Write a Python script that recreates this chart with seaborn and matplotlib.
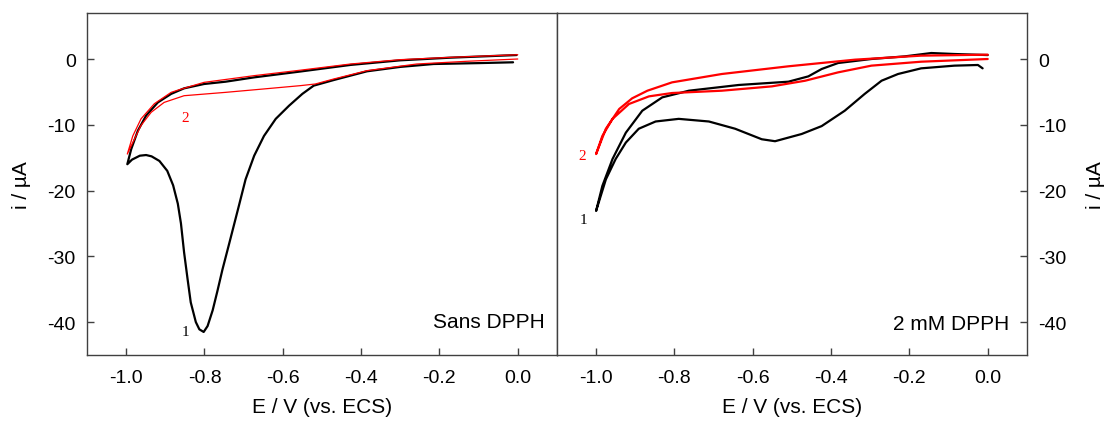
import matplotlib
matplotlib.use("Agg")
import matplotlib.pyplot as plt
import seaborn as sns

# left panel: without DPPH
# curve 1 (black): cathodic sweep 0 -> -1 V, then back to 0
e_sans_1 = [-0.012, -0.097, -0.215, -0.300, -0.385, -0.470, -0.521, -0.550, -0.584, -0.618,
            -0.648, -0.673, -0.695, -0.712, -0.737, -0.754, -0.767, -0.779, -0.792, -0.802,
            -0.813, -0.822, -0.835, -0.843, -0.852, -0.860, -0.868, -0.880, -0.895, -0.915,
            -0.935, -0.949, -0.965, -0.985, -0.997,
            -0.987, -0.970, -0.949, -0.919, -0.885, -0.852, -0.801, -0.746, -0.673, -0.555,
            -0.427, -0.300, -0.173, -0.003]
i_sans_1 = [-0.5, -0.62, -0.76, -1.2, -1.87, -3.2, -4.05, -5.3, -7.1, -9.1,
            -11.7, -14.7, -18.3, -22.3, -28.1, -32.0, -35.3, -38.2, -40.6, -41.5,
            -41.1, -40.0, -37.0, -33.5, -29.4, -25.0, -22.0, -19.2, -17.0, -15.5,
            -14.8, -14.6, -14.7, -15.3, -16.0,
            -13.7, -10.9, -8.6, -6.6, -5.3, -4.46, -3.8, -3.45, -2.79, -1.9,
            -0.9, -0.2, 0.2, 0.6]
# curve 2 (red)
e_sans_2 = [0.0, -0.131, -0.258, -0.385, -0.470, -0.517, -0.555, -0.631, -0.746, -0.852,
            -0.903, -0.936, -0.962, -0.997,
            -0.983, -0.962, -0.928, -0.885, -0.864, -0.801, -0.673, -0.555, -0.427, -0.300,
            -0.173, 0.0]
i_sans_2 = [0.0, -0.35, -0.76, -1.77, -3.04, -3.8, -4.05, -4.46, -5.07, -5.58,
            -6.6, -8.1, -10.1, -14.45,
            -11.7, -9.1, -6.8, -5.07, -4.66, -3.55, -2.53, -1.7, -0.76, -0.1,
            0.25, 0.65]

# right panel: 2 mM DPPH
e_dpph_1 = [-0.013, -0.025, -0.085, -0.170, -0.229, -0.271, -0.314, -0.365, -0.424, -0.475,
            -0.543, -0.577, -0.645, -0.712, -0.789, -0.848, -0.891, -0.924, -0.950, -0.975,
            -1.0, -0.984, -0.958, -0.924, -0.882, -0.831, -0.763, -0.636, -0.509, -0.458,
            -0.424, -0.382, -0.297, -0.212, -0.144, -0.085, 0.0]
i_dpph_1 = [-1.42, -0.91, -1.01, -1.42, -2.28, -3.3, -5.3, -7.86, -10.2, -11.4,
            -12.5, -12.2, -10.6, -9.5, -9.1, -9.5, -10.6, -12.7, -15.2, -18.3,
            -23.1, -19.3, -15.2, -11.2, -7.86, -5.83, -4.82, -3.95, -3.45, -2.64,
            -1.52, -0.61, 0.0, 0.4, 0.91, 0.76, 0.6]
e_dpph_2 = [0.0, -0.170, -0.297, -0.382, -0.466, -0.551, -0.679, -0.806, -0.865, -0.916,
            -0.958, -0.984, -1.0, -0.975, -0.941, -0.908, -0.869, -0.806, -0.679, -0.509,
            -0.339, -0.170, 0.0]
i_dpph_2 = [0.0, -0.41, -1.01, -2.03, -3.3, -4.16, -4.82, -5.17, -5.68, -6.84,
            -9.1, -11.7, -14.45, -10.6, -7.6, -5.98, -4.82, -3.55, -2.28, -1.11,
            -0.1, 0.51, 0.66]

xticks = [-1.0, -0.8, -0.6, -0.4, -0.2, 0.0]
yticks = [0, -10, -20, -30, -40]

sns.set_style("ticks")
plt.rcParams['font.family'] = ['Liberation Sans', 'DejaVu Sans']
plt.rcParams['axes.unicode_minus'] = False
plt.rcParams['text.color'] = 'black'
plt.rcParams['axes.labelcolor'] = 'black'

fig = plt.figure(figsize=(11.05, 4.27), dpi=100)
ax1 = fig.add_axes([0.0787, 0.1663, 0.4253, 0.801])
ax2 = fig.add_axes([0.504, 0.1663, 0.4253, 0.801])

sns.lineplot(x=e_sans_1, y=i_sans_1, sort=False, estimator=None, color='black', lw=1.6, ax=ax1)
sns.lineplot(x=e_sans_2, y=i_sans_2, sort=False, estimator=None, color='red', lw=0.9, ax=ax1)
sns.lineplot(x=e_dpph_1, y=i_dpph_1, sort=False, estimator=None, color='black', lw=1.6, ax=ax2)
sns.lineplot(x=e_dpph_2, y=i_dpph_2, sort=False, estimator=None, color='red', lw=1.6, ax=ax2)

for ax in (ax1, ax2):
    ax.set_xlim(-1.1, 0.1)
    ax.set_ylim(-45, 7)
    ax.set_xticks(xticks)
    ax.set_xticklabels(['%.1f' % v for v in xticks])
    ax.set_yticks(yticks)
    ax.set_yticklabels([str(v) for v in yticks])
    ax.tick_params(direction='in', length=5, width=1, color='#404040',
                   labelcolor='black', labelsize=14)
    ax.tick_params(axis='x', pad=10)
    ax.tick_params(axis='y', pad=8)
    for s in ax.spines.values():
        s.set_color('#404040')
        s.set_linewidth(1)
    ax.set_xlabel('E / V (vs. ECS)', fontsize=15, labelpad=8)
    ax.set_ylabel('i / µA', fontsize=15)

ax2.yaxis.tick_right()
ax2.yaxis.set_label_position('right')
ax1.yaxis.labelpad = 12
ax2.yaxis.labelpad = 14

ax1.text(0.974, 0.099, 'Sans DPPH', transform=ax1.transAxes, ha='right', va='center', fontsize=15)
ax2.text(0.962, 0.091, '2 mM DPPH', transform=ax2.transAxes, ha='right', va='center', fontsize=15)

ax1.text(-0.849, -41.5, '1', family='Liberation Serif', fontsize=11, ha='center', va='center', color='black')
ax1.text(-0.849, -8.9, '2', family='Liberation Serif', fontsize=11, ha='center', va='center', color='red')
ax2.text(-1.035, -14.6, '2', family='Liberation Serif', fontsize=11, ha='center', va='center', color='red')
ax2.text(-1.032, -24.4, '1', family='Liberation Serif', fontsize=11, ha='center', va='center', color='black')

fig.savefig('out.png', dpi=100)
